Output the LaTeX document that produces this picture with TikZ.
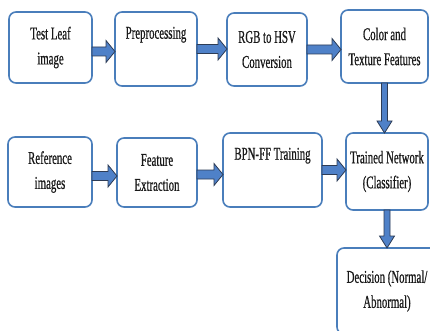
\documentclass[tikz,border=0pt]{standalone}
\usepackage{fontspec}
\setmainfont{Liberation Serif}[FakeStretch=0.6,FakeBold=0.6]
\usetikzlibrary{calc}
\definecolor{boxblue}{RGB}{74,126,187}
\definecolor{arrowfill}{RGB}{79,129,200}
\definecolor{arrowline}{RGB}{45,60,85}
\definecolor{txt}{RGB}{25,25,25}
\tikzset{
  stage/.style={draw=boxblue, line width=1.6pt, rounded corners=7pt, fill=white,
    align=center, outer sep=0pt, inner sep=2pt, text=txt,
    font=\fontsize{18pt}{25pt}\selectfont},
  blockarrow/.style={fill=arrowfill, draw=arrowline, line width=0.8pt, line join=miter}
}
\newcommand\harrow[3][0pt]{%
  \draw[blockarrow] let \p1=(#2.east), \p2=(#3.west) in
    (\x1,\y1+#1+4.5pt) -- (\x2-9pt,\y1+#1+4.5pt) -- (\x2-9pt,\y1+#1+11pt) -- (\x2,\y1+#1)
    -- (\x2-9pt,\y1+#1-11pt) -- (\x2-9pt,\y1+#1-4.5pt) -- (\x1,\y1+#1-4.5pt) -- cycle;}
\newcommand\varrow[2]{%
  \draw[blockarrow] let \p1=(#1.south), \p2=(#2.north) in
    (\x1-3pt,\y1) -- (\x1-3pt,\y2+12pt) -- (\x1-7.5pt,\y2+12pt) -- (\x1,\y2)
    -- (\x1+7.5pt,\y2+12pt) -- (\x1+3pt,\y2+12pt) -- (\x1+3pt,\y1) -- cycle;}
\begin{document}
\begin{tikzpicture}[x=1pt,y=-1pt]
\clip (0,0) rectangle (430,331);
\fill[white] (0,0) rectangle (430,331);
\node[stage, minimum width=83pt, minimum height=71pt] (test) at (50.5,47.5) {Test Leaf\\image};
\node[stage, minimum width=82pt, minimum height=74pt] (pre) at (156,49) {Preprocessing\\\strut};
\node[stage, minimum width=80pt, minimum height=73pt] (rgb) at (267,49.5) {RGB to HSV\\Conversion};
\node[stage, minimum width=87pt, minimum height=73pt] (feat) at (384.5,46.5) {Color and\\Texture Features};
\node[stage, minimum width=84pt, minimum height=70pt] (ref) at (50,172) {Reference\\images};
\node[stage, minimum width=80pt, minimum height=69pt] (ext) at (157,172.5) {Feature\\Extraction};
\node[stage, minimum width=99pt, minimum height=74pt] (bpn) at (272.5,170) {BPN-FF Training\\\strut};
\node[stage, minimum width=82pt, minimum height=77pt] (net) at (387,171.5) {Trained Network\\(Classifier)};
\node[stage, minimum width=100pt, minimum height=86pt] (dec) at (387,291) {Decision (Normal/\\Abnormal)};
\harrow[-4pt]{test}{pre}
\harrow{pre}{rgb}
\harrow{rgb}{feat}
\harrow[-4pt]{ref}{ext}
\harrow[-2pt]{ext}{bpn}
\harrow{bpn}{net}
\varrow{feat}{net}
\varrow{net}{dec}
\end{tikzpicture}
\end{document}
